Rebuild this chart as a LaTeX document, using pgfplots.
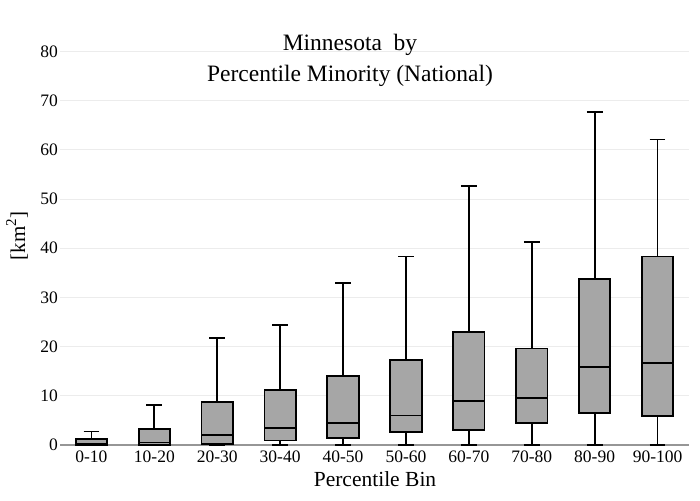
\documentclass[border=0pt]{standalone}
\usepackage{pgfplots}
\pgfplotsset{compat=1.18}
\usepgfplotslibrary{statistics}
\usepackage{fontspec}
\setmainfont{Liberation Serif}
\definecolor{boxfill}{RGB}{166,166,166}
\definecolor{gridc}{RGB}{236,236,236}
\definecolor{zeroc}{RGB}{150,150,150}
\pgfplotsset{
  bx/.style={draw=black, fill=boxfill, line width=1.8pt, solid},
}
\begin{document}
\begin{tikzpicture}
\path[use as bounding box] (0pt,0pt) rectangle (700pt,500pt);
\begin{axis}[
  at={(60pt,55pt)}, anchor=south west,
  scale only axis, width=629pt, height=393.6pt,
  xmin=-0.5, xmax=9.5, ymin=0, ymax=80,
  axis x line*=bottom, axis y line*=left,
  x axis line style={draw=zeroc, line width=2pt, -},
  y axis line style={draw=none},
  major tick length=0pt,
  ymajorgrids, grid style={draw=gridc, line width=1pt},
  ytick={0,10,...,80},
  xtick={0,...,9},
  xticklabels={0-10,10-20,20-30,30-40,40-50,50-60,60-70,70-80,80-90,90-100},
  /pgf/number format/assume math mode=true,
  ticklabel style={font=\fontsize{17.5}{20}\selectfont},
  xticklabel style={anchor=base, yshift=-17pt},
  yticklabel style={anchor=east, inner sep=0pt, xshift=-2pt},
  boxplot/draw direction=y,
  boxplot/box extend=0.5,
  boxplot/whisker extend=0.25,
]
\addplot[bx, boxplot prepared={draw position=0, lower whisker=0, lower quartile=0.05, median=0.3, upper quartile=1.15, upper whisker=2.75}] coordinates {};
\addplot[bx, boxplot prepared={draw position=1, lower whisker=0, lower quartile=0.05, median=0.5, upper quartile=3.2, upper whisker=8.2}] coordinates {};
\addplot[bx, boxplot prepared={draw position=2, lower whisker=0, lower quartile=0.25, median=2.05, upper quartile=8.8, upper whisker=21.8}] coordinates {};
\addplot[bx, boxplot prepared={draw position=3, lower whisker=0, lower quartile=0.9, median=3.5, upper quartile=11.1, upper whisker=24.4}] coordinates {};
\addplot[bx, boxplot prepared={draw position=4, lower whisker=0, lower quartile=1.5, median=4.4, upper quartile=14.1, upper whisker=33.0}] coordinates {};
\addplot[bx, boxplot prepared={draw position=5, lower whisker=0, lower quartile=2.6, median=6.0, upper quartile=17.2, upper whisker=38.3}] coordinates {};
\addplot[bx, boxplot prepared={draw position=6, lower whisker=0, lower quartile=3.1, median=8.9, upper quartile=22.9, upper whisker=52.6}] coordinates {};
\addplot[bx, boxplot prepared={draw position=7, lower whisker=0, lower quartile=4.5, median=9.6, upper quartile=19.6, upper whisker=41.2}] coordinates {};
\addplot[bx, boxplot prepared={draw position=8, lower whisker=0, lower quartile=6.5, median=15.8, upper quartile=33.7, upper whisker=67.7}] coordinates {};
\addplot[bx, boxplot prepared={draw position=9, lower whisker=0, lower quartile=5.9, median=16.6, upper quartile=38.3, upper whisker=62.1}] coordinates {};
\end{axis}
\node[anchor=base, font=\fontsize{23.5}{28}\selectfont] at (350pt,449.3pt) {Minnesota\ \ by};
\node[anchor=base, font=\fontsize{23.5}{28}\selectfont] at (350pt,418.3pt) {Percentile Minority (National)};
\node[anchor=base, font=\fontsize{21.5}{25}\selectfont] at (375pt,14pt) {Percentile Bin};
\node[rotate=90, anchor=base, font=\fontsize{21}{25}\selectfont] at (25pt,264pt) {[km\raisebox{0.42em}{\fontsize{15}{15}\selectfont 2}]};
\end{tikzpicture}
\end{document}
